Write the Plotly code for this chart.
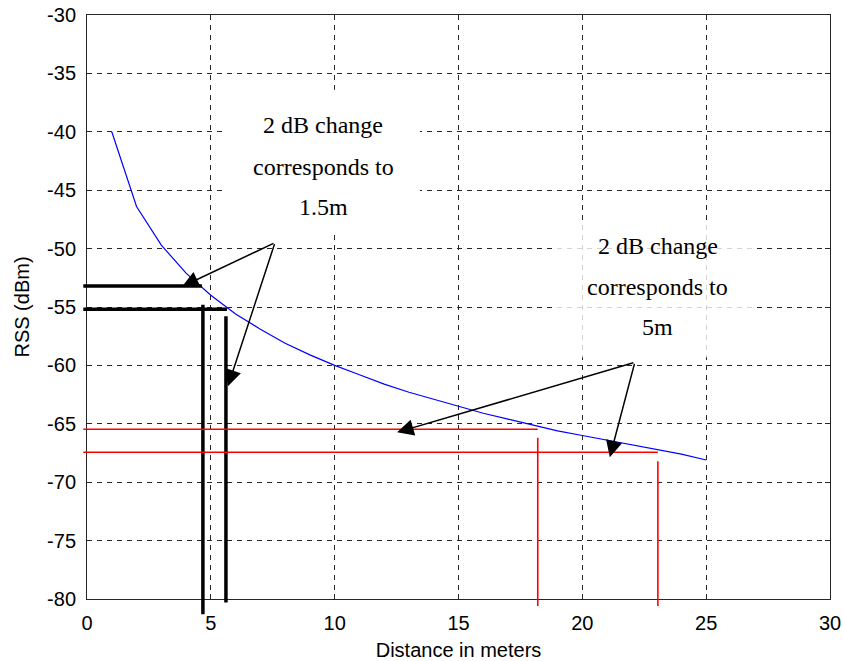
import plotly.graph_objects as go

# ---------------- data ----------------
distance_m = [1, 2, 3, 4, 5, 6, 7, 8, 9, 10, 11, 12, 13, 14, 15, 16, 17, 18, 19, 20, 21, 22, 23, 24, 25]
rss_dbm = [-40.0, -46.4, -49.7, -52.1, -54.0, -55.6, -56.9, -58.1, -59.1, -60.0, -60.8, -61.6, -62.3,
           -62.9, -63.5, -64.1, -64.6, -65.1, -65.6, -66.0, -66.4, -66.8, -67.2, -67.6, -68.1]

x_ticks = [0, 5, 10, 15, 20, 25, 30]
x_tick_labels = ["0", "5", "10", "15", "20", "25", "30"]
y_ticks = [-80, -75, -70, -65, -60, -55, -50, -45, -40, -35, -30]
y_tick_labels = ["-80", "-75", "-70", "-65", "-60", "-55", "-50", "-45", "-40", "-35", "-30"]
x_range = [0, 30]
y_range = [-80, -30]

# black guide lines (near range): horizontal levels and vertical projections
black_h_level = [-53.2, -55.2]
black_h_start = [-0.15, -0.15]
black_h_end = [4.64, 5.65]
black_v_pos = [4.68, 5.61]
black_v_top = [-54.8, -55.8]
black_v_bottom = [-81.3, -80.3]

# red guide lines (far range)
red_h_level = [-65.47, -67.44]
red_h_start = [-0.15, -0.15]
red_h_end = [18.2, 23.05]
red_v_pos = [18.2, 23.05]
red_v_top = [-66.2, -68.2]
red_v_bottom = [-80.6, -80.6]

# callout text lines and arrows
note1_lines = ["2 dB change", "corresponds to", "1.5m"]
note1_x = 9.53
note1_y = [-39.4, -43.0, -46.4]
note1_box = [5.57, 13.44, -36.4, -48.8]   # x0, x1, y_top, y_bottom

note2_lines = ["2 dB change", "corresponds to", "5m"]
note2_x = 23.05
note2_y = [-49.8, -53.25, -56.75]
note2_box = [18.9, 26.9, -47.9, -59.3]

arrow_tail_x = [7.59, 7.59, 22.12, 22.12]
arrow_tail_y = [-49.49, -49.49, -59.74, -59.74]
arrow_tip_x = [3.84, 5.69, 12.52, 21.11]
arrow_tip_y = [-53.25, -61.79, -65.73, -67.86]


def to_paper_x(v):
    return (v - x_range[0]) / (x_range[1] - x_range[0])


def to_paper_y(v):
    return (v - y_range[0]) / (y_range[1] - y_range[0])


fig = go.Figure()
fig.add_trace(go.Scatter(x=distance_m, y=rss_dbm, mode="lines",
                         line=dict(color="#0000ff", width=1.2), showlegend=False))

shapes = []
# white callout boxes
for box, op in ((note1_box, 1.0), (note2_box, 0.8)):
    shapes.append(dict(type="rect", xref="x", yref="y", x0=box[0], x1=box[1], y0=box[3], y1=box[2],
                       fillcolor="white", opacity=op, line=dict(width=0), layer="between"))


def seg(x0, y0, x1, y1, color, width):
    return dict(type="line", xref="paper", yref="paper",
                x0=to_paper_x(x0), y0=to_paper_y(y0), x1=to_paper_x(x1), y1=to_paper_y(y1),
                line=dict(color=color, width=width), layer="above")


for lv, s, e in zip(black_h_level, black_h_start, black_h_end):
    shapes.append(seg(s, lv, e, lv, "black", 3.5))
for p, t, b in zip(black_v_pos, black_v_top, black_v_bottom):
    shapes.append(seg(p, t, p, b, "black", 3.5))
for lv, s, e in zip(red_h_level, red_h_start, red_h_end):
    shapes.append(seg(s, lv, e, lv, "#ff0000", 1.6))
for p, t, b in zip(red_v_pos, red_v_top, red_v_bottom):
    shapes.append(seg(p, t, p, b, "#ff0000", 1.6))

annotations = []
for lines, nx, ny in ((note1_lines, note1_x, note1_y), (note2_lines, note2_x, note2_y)):
    for txt, yy in zip(lines, ny):
        annotations.append(dict(x=nx, y=yy, xref="x", yref="y", text=txt, showarrow=False,
                                font=dict(family="Liberation Serif", size=24, color="black"),
                                xanchor="center", yanchor="middle"))

for tx, ty, hx, hy in zip(arrow_tail_x, arrow_tail_y, arrow_tip_x, arrow_tip_y):
    annotations.append(dict(x=hx, y=hy, xref="x", yref="y", ax=tx, ay=ty, axref="x", ayref="y",
                            text="", showarrow=True, arrowhead=2, arrowsize=2.2, arrowwidth=1.5,
                            arrowcolor="black", standoff=0, startstandoff=0))

fig.update_layout(
    width=843, height=661,
    margin=dict(l=87, r=13, t=15, b=62, autoexpand=False),
    paper_bgcolor="white", plot_bgcolor="white",
    shapes=shapes, annotations=annotations,
    font=dict(family="Liberation Sans", size=20, color="black"),
    showlegend=False,
)
axis_common = dict(showline=True, linecolor="#262626", linewidth=1, mirror="ticks",
                   ticks="inside", ticklen=5, tickcolor="#262626", tickwidth=1,
                   showgrid=True, gridcolor="#262626", gridwidth=1, griddash="5px,5px",
                   zeroline=False, tickfont=dict(family="Liberation Sans", size=20, color="black"),
                   ticklabelstandoff=6, automargin=False)
fig.update_xaxes(range=x_range, tickvals=x_ticks, ticktext=x_tick_labels,
                 title=dict(text="Distance in meters", standoff=10,
                            font=dict(family="Liberation Sans", size=20, color="black")),
                 **axis_common)
fig.update_yaxes(range=y_range, tickvals=y_ticks, ticktext=y_tick_labels,
                 title=dict(text="RSS (dBm)", standoff=12,
                            font=dict(family="Liberation Sans", size=20, color="black")),
                 **axis_common)

fig.write_html("out.html")
